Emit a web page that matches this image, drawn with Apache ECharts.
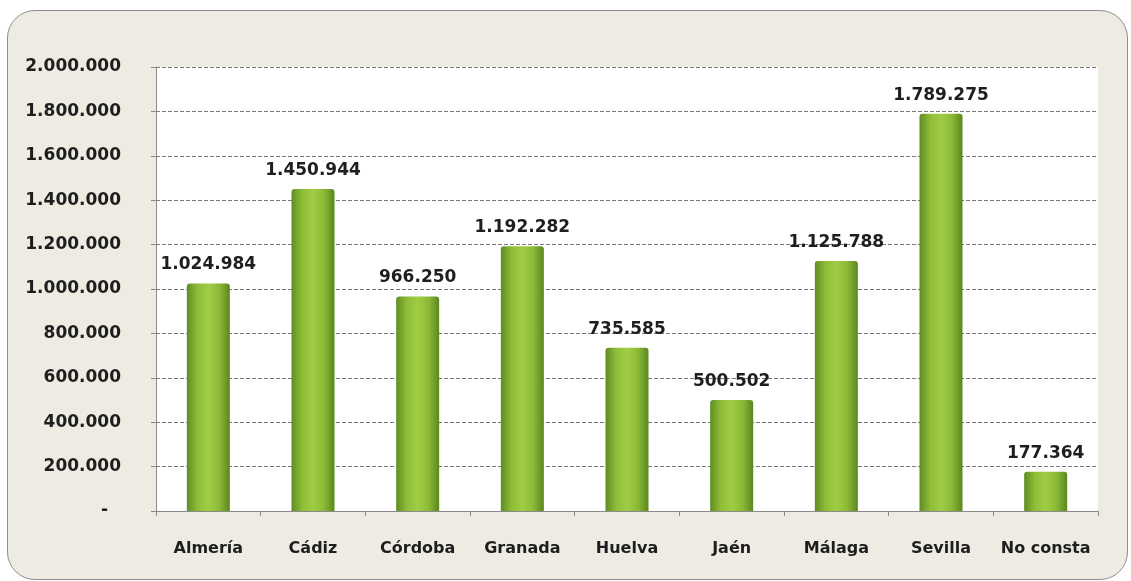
<!DOCTYPE html>
<html><head><meta charset="utf-8">
<script src="https://cdn.jsdelivr.net/npm/echarts@6/dist/echarts.min.js"></script>
<style>
html,body{margin:0;padding:0;background:#ffffff;}
#frame{position:absolute;left:7px;top:10px;width:1121px;height:570px;background:#edebe2;border:1px solid #8e8e8e;border-radius:28px;box-sizing:border-box;}
#chart{position:absolute;left:0;top:0;width:1131px;height:581px;}
</style></head>
<body>
<div id="frame"></div>
<div id="chart"></div>
<script>
const categories = ["Almería","Cádiz","Córdoba","Granada","Huelva","Jaén","Málaga","Sevilla","No consta"];
const values = [1024984,1450944,966250,1192282,735585,500502,1125788,1789275,177364];
const yTicks = [0,200000,400000,600000,800000,1000000,1200000,1400000,1600000,1800000,2000000];

function fmt(v){
  return String(v).replace(/\B(?=(\d{3})+(?!\d))/g,'.');
}
const chart = echarts.init(document.getElementById('chart'));
chart.setOption({
  backgroundColor:'transparent',
  animation:false,
  grid:{left:156,right:33,top:67,bottom:70,show:true,backgroundColor:'#ffffff',borderWidth:0},
  xAxis:{type:'category',data:categories,
    axisLine:{show:true,lineStyle:{color:'#8a8a8a',width:1}},
    axisTick:{show:true,length:5,lineStyle:{color:'#8a8a8a'}},
    axisLabel:{interval:0,color:'#1e1e1e',fontFamily:'DejaVu Sans',fontWeight:'bold',fontSize:16,margin:30}},
  yAxis:{type:'value',min:0,max:2000000,interval:200000,
    axisLine:{show:true,lineStyle:{color:'#8a8a8a',width:1}},
    axisTick:{show:true,length:5,lineStyle:{color:'#8a8a8a'}},
    splitLine:{show:true,lineStyle:{color:'#7a7a7a',type:[4,2],width:1}},
    axisLabel:{color:'#1e1e1e',fontFamily:'DejaVu Sans',fontWeight:'bold',fontSize:17,margin:35,
      rich:{z:{color:'#1e1e1e',fontFamily:'DejaVu Sans',fontWeight:'bold',fontSize:17,padding:[0,13,0,0]}},
      formatter:function(v){
        if(yTicks.indexOf(v)<0) return '';
        return v===0?'{z|-}':fmt(v);
      }}},
  series:[{type:'bar',data:values,barWidth:43,
    itemStyle:{borderRadius:[3,3,0,0],
      color:new echarts.graphic.LinearGradient(0,0,1,0,[
        {offset:0,color:'#5f8d22'},{offset:0.25,color:'#8ebd38'},
        {offset:0.5,color:'#a2cc45'},{offset:0.75,color:'#8cba36'},{offset:1,color:'#5a871f'}])},
    label:{show:true,position:'top',distance:10,color:'#1e1e1e',fontFamily:'DejaVu Sans',fontWeight:'bold',fontSize:17,
      formatter:function(p){return fmt(p.value);}}}]
});
</script>
</body></html>
